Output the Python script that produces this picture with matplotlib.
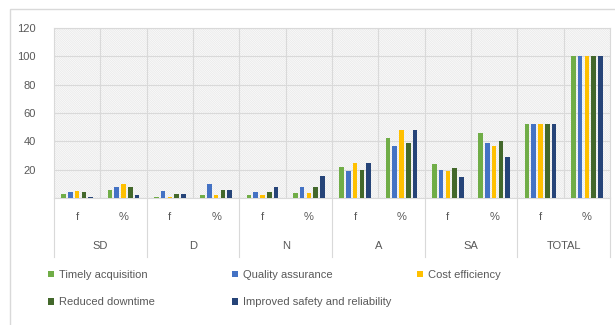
import matplotlib
matplotlib.use("Agg")
import matplotlib.pyplot as plt
import matplotlib.transforms as mtransforms
from matplotlib.patches import Rectangle, Patch
import numpy as np

plt.rcParams['font.family'] = ['Liberation Sans', 'DejaVu Sans']
plt.rcParams['hatch.linewidth'] = 0.45

categories = ['SD', 'D', 'N', 'A', 'SA', 'TOTAL']
sub_labels = ['f', '%']
series_names = ['Timely acquisition', 'Quality assurance', 'Cost efficiency',
                'Reduced downtime', 'Improved safety and reliability']
series_colors = ['#70AD47', '#4472C4', '#FFC000', '#43682B', '#264478']

timely_f = [3, 1, 2, 22, 24, 52]
timely_pct = [5.8, 1.9, 3.8, 42.3, 46.2, 100]
quality_f = [4, 5, 4, 19, 20, 52]
quality_pct = [7.7, 9.6, 7.7, 36.5, 38.5, 100]
cost_f = [5, 1, 2, 25, 19, 52]
cost_pct = [9.6, 1.9, 3.8, 48.1, 36.5, 100]
downtime_f = [4, 3, 4, 20, 21, 52]
downtime_pct = [7.7, 5.8, 7.7, 38.5, 40.4, 100]
safety_f = [1, 3, 8, 25, 15, 52]
safety_pct = [1.9, 5.8, 15.4, 48.1, 28.8, 100]

y_ticks = [0, 20, 40, 60, 80, 100, 120]
y_tick_labels = ['', '20', '40', '60', '80', '100', '120']

series_f = [timely_f, quality_f, cost_f, downtime_f, safety_f]
series_pct = [timely_pct, quality_pct, cost_pct, downtime_pct, safety_pct]

text_color = '#595959'
grid_color = '#d9d9d9'

fig = plt.figure(figsize=(6.15, 3.25), dpi=100)
ax = fig.add_axes([54 / 615, 1 - 198 / 325, 556 / 615, 170 / 325])

n_slots = len(categories) * len(sub_labels)
x = np.arange(n_slots)
pitch = 0.145
width = 0.10
for i, (fv, pv, col) in enumerate(zip(series_f, series_pct, series_colors)):
    vals = []
    for a, b in zip(fv, pv):
        vals.extend([a, b])
    ax.bar(x + (i - 2) * pitch, vals, width=width, color=col, zorder=3,
           label=series_names[i])

ax.set_xlim(-0.5, n_slots - 0.5)
ax.set_ylim(0, 120)
ax.set_yticks(y_ticks)
ax.set_yticklabels(y_tick_labels)
ax.set_xticks(x)
ax.set_xticklabels(sub_labels * len(categories))
ax.set_xticks(np.arange(0.5, n_slots - 1, 1.0), minor=True)
ax.tick_params(axis='both', which='both', length=0, labelsize=8,
               colors=text_color)
ax.tick_params(axis='x', pad=10)
ax.tick_params(axis='y', pad=13)

# background pattern
ax.set_facecolor('white')
bg = Rectangle((0, 0), 1, 1, transform=ax.transAxes, facecolor='white',
               edgecolor='#e4e4e4', hatch='\\' * 18, lw=0, zorder=0.1)
ax.add_patch(bg)

ax.set_axisbelow(True)
ax.grid(axis='y', which='major', color=grid_color, lw=0.8)
ax.grid(axis='x', which='minor', color=grid_color, lw=0.8)
for s in ax.spines.values():
    s.set_color(grid_color)
    s.set_linewidth(0.8)

# category axis below plot
trans = mtransforms.blended_transform_factory(ax.transData, ax.transAxes)
for k in range(len(categories) + 1):
    xb = -0.5 + 2 * k
    ax.plot([xb, xb], [0, -59 / 170], transform=trans, color=grid_color,
            lw=0.8, clip_on=False)
for k, c in enumerate(categories):
    ax.text(2 * k + 0.5, -48 / 170, c, transform=trans, ha='center',
            va='center', fontsize=8, color=text_color)

# outer chart border
fig.add_artist(Rectangle((10 / 615, -0.1), 1.2, 1 - 9 / 325 + 0.1,
                         transform=fig.transFigure, fill=False,
                         edgecolor=grid_color, lw=1))

# legend in three columns
handles = [Patch(facecolor=c, edgecolor='none', label=n)
           for c, n in zip(series_colors, series_names)]
cols = [[0, 3], [1, 4], [2]]
col_x = [48 / 615, 232 / 615, 417 / 615]
for j, (idxs, xx) in enumerate(zip(cols, col_x)):
    leg = fig.legend(handles=[handles[i] for i in idxs], loc='upper left',
                     bbox_to_anchor=(xx, 1 - 270 / 325), frameon=False,
                     borderpad=0, borderaxespad=0, handlelength=0.55,
                     handleheight=0.55, handletextpad=0.45,
                     labelspacing=1.55, fontsize=8, labelcolor=text_color)

fig.savefig('out.png', dpi=100)
